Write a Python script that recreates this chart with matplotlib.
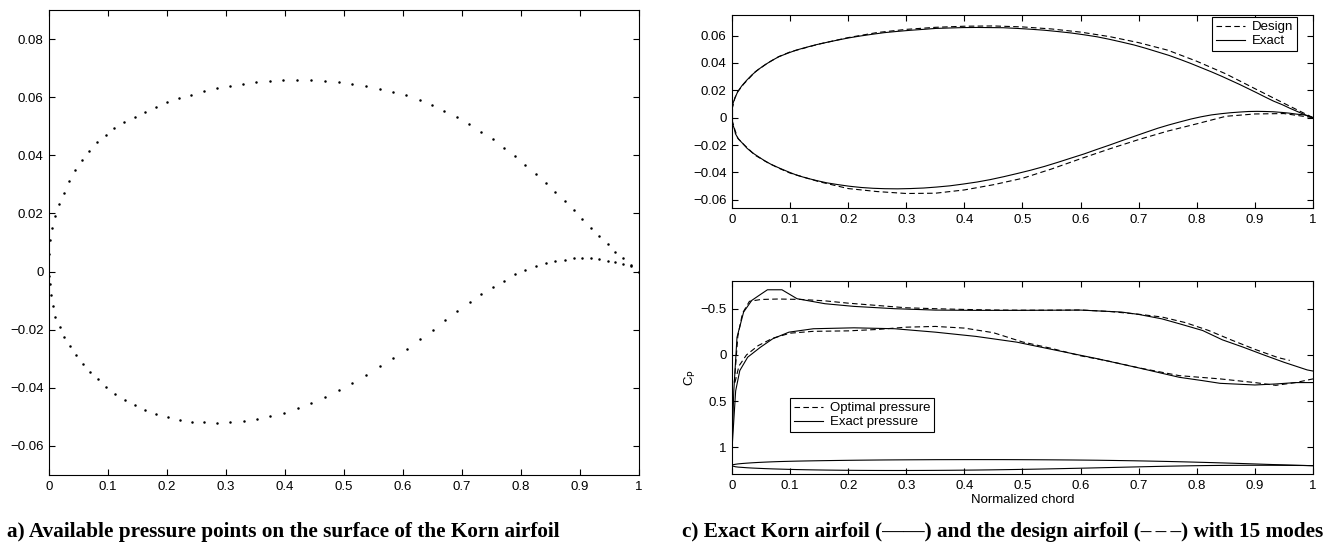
import matplotlib
matplotlib.use("Agg")
import matplotlib.pyplot as plt

# Korn airfoil, pressure points (upper and lower surface)
upper_x = [0.0, 0.002, 0.0057, 0.010, 0.017, 0.025, 0.034, 0.044, 0.056, 0.068, 0.081, 0.096,
           0.111, 0.127, 0.145, 0.163, 0.181, 0.200, 0.220, 0.241, 0.262, 0.284, 0.306, 0.329,
           0.351, 0.374, 0.397, 0.421, 0.444, 0.467, 0.491, 0.514, 0.537, 0.561, 0.583, 0.605,
           0.628, 0.649, 0.670, 0.692, 0.712, 0.732, 0.752, 0.771, 0.789, 0.807, 0.825, 0.842,
           0.858, 0.874, 0.889, 0.904, 0.918, 0.932, 0.947, 0.960, 0.973, 0.986, 1.0]
upper_y = [0.0062, 0.0108, 0.0150, 0.0191, 0.0233, 0.0272, 0.0311, 0.0348, 0.0384, 0.0416, 0.0446,
           0.0471, 0.0494, 0.0513, 0.0533, 0.0550, 0.0566, 0.0582, 0.0596, 0.0609, 0.0621, 0.0630,
           0.0638, 0.0645, 0.0652, 0.0655, 0.0658, 0.0659, 0.0658, 0.0657, 0.0652, 0.0646, 0.0639,
           0.0629, 0.0619, 0.0606, 0.0591, 0.0573, 0.0553, 0.0531, 0.0507, 0.0481, 0.0455, 0.0426,
           0.0397, 0.0366, 0.0335, 0.0304, 0.0273, 0.0242, 0.0211, 0.0180, 0.0150, 0.0121, 0.0095,
           0.0069, 0.0045, 0.0021, 0.0]
lower_x = [0.0, 0.001, 0.004, 0.006, 0.011, 0.019, 0.026, 0.035, 0.046, 0.057, 0.069, 0.083, 0.097,
           0.112, 0.128, 0.146, 0.163, 0.182, 0.202, 0.222, 0.243, 0.263, 0.285, 0.307, 0.330,
           0.352, 0.375, 0.398, 0.422, 0.444, 0.468, 0.491, 0.514, 0.538, 0.561, 0.583, 0.606,
           0.628, 0.650, 0.671, 0.692, 0.713, 0.733, 0.752, 0.771, 0.790, 0.807, 0.825, 0.842,
           0.858, 0.874, 0.889, 0.904, 0.918, 0.932, 0.947, 0.959, 0.973, 0.986, 1.0]
lower_y = [-0.0015, -0.0044, -0.0082, -0.0118, -0.0156, -0.0191, -0.0224, -0.0256, -0.0287, -0.0317,
           -0.0345, -0.0371, -0.0396, -0.0421, -0.0441, -0.0460, -0.0476, -0.0489, -0.0501, -0.0510,
           -0.0516, -0.0519, -0.0520, -0.0518, -0.0514, -0.0507, -0.0498, -0.0485, -0.0470, -0.0453,
           -0.0431, -0.0408, -0.0384, -0.0356, -0.0326, -0.0296, -0.0265, -0.0232, -0.0200, -0.0168,
           -0.0137, -0.0106, -0.0077, -0.0053, -0.0031, -0.0010, 0.0006, 0.0020, 0.0029, 0.0036,
           0.0041, 0.0045, 0.0046, 0.0045, 0.0043, 0.0038, 0.0033, 0.0025, 0.0020, 0.0]

# design airfoil (15 modes)
design_x = [0.0, 0.005, 0.01, 0.02, 0.04, 0.06, 0.08, 0.1, 0.15, 0.2, 0.25, 0.3, 0.35, 0.4, 0.45,
            0.5, 0.55, 0.6, 0.65, 0.7, 0.75, 0.8, 0.85, 0.9, 0.95, 1.0]
design_upper = [0.006, 0.0145, 0.019, 0.0245, 0.0335, 0.0395, 0.0445, 0.048, 0.0538, 0.0585, 0.0622,
                0.0645, 0.066, 0.0668, 0.0670, 0.0663, 0.0648, 0.0625, 0.0592, 0.0548, 0.0493,
                0.0412, 0.0320, 0.0212, 0.0105, 0.0]
design_lower = [-0.0015, -0.009, -0.015, -0.0195, -0.0275, -0.0325, -0.0368, -0.0405, -0.0468, -0.0518,
                -0.054, -0.0554, -0.0552, -0.0528, -0.049, -0.0443, -0.0375, -0.0300, -0.0228,
                -0.0160, -0.0098, -0.0045, 0.0010, 0.0027, 0.0030, 0.0]

# pressure coefficients
cp_exact_up_x = [0.0, 0.003, 0.0086, 0.02, 0.034, 0.048, 0.061, 0.086, 0.112, 0.16, 0.21, 0.28, 0.35,
                 0.42, 0.49, 0.6, 0.67, 0.70, 0.74, 0.77, 0.81, 0.844, 0.88, 0.915, 0.95, 0.99, 1.0]
cp_exact_up = [1.02, 0.4, -0.19, -0.464, -0.59, -0.65, -0.705, -0.705, -0.608, -0.554, -0.525, -0.5,
               -0.485, -0.482, -0.482, -0.485, -0.464, -0.438, -0.39, -0.337, -0.264, -0.163, -0.083,
               0.0, 0.08, 0.163, 0.175]
cp_opt_up_x = [0.004, 0.01, 0.018, 0.03, 0.05, 0.08, 0.12, 0.16, 0.2, 0.25, 0.3, 0.35, 0.4, 0.45, 0.5,
               0.55, 0.6, 0.65, 0.7, 0.74, 0.78, 0.82, 0.86, 0.9, 0.94, 0.96]
cp_opt_up = [0.3, -0.2, -0.45, -0.58, -0.6, -0.605, -0.6, -0.585, -0.56, -0.535, -0.51, -0.5, -0.492,
             -0.486, -0.484, -0.484, -0.486, -0.47, -0.44, -0.41, -0.35, -0.265, -0.16, -0.06, 0.03, 0.06]
cp_exact_lo_x = [0.0, 0.0063, 0.0134, 0.027, 0.049, 0.07, 0.098, 0.14, 0.21, 0.28, 0.35, 0.42, 0.49,
                 0.56, 0.63, 0.70, 0.77, 0.81, 0.84, 0.90, 0.936, 0.97, 0.99, 1.0]
cp_exact_lo = [1.02, 0.39, 0.17, 0.025, -0.083, -0.174, -0.246, -0.283, -0.293, -0.283, -0.246, -0.2,
               -0.138, -0.047, 0.043, 0.141, 0.243, 0.279, 0.308, 0.326, 0.315, 0.3, 0.3, 0.3]
cp_opt_lo_x = [0.005, 0.012, 0.025, 0.045, 0.07, 0.1, 0.14, 0.2, 0.25, 0.3, 0.35, 0.4, 0.45, 0.5,
               0.55, 0.6, 0.65, 0.7, 0.77, 0.84, 0.9, 0.936, 0.97, 1.0]
cp_opt_lo = [0.3, 0.12, 0.0, -0.1, -0.18, -0.235, -0.255, -0.26, -0.275, -0.3, -0.308, -0.29, -0.24,
             -0.14, -0.07, 0.01, 0.07, 0.14, 0.225, 0.26, 0.3, 0.33, 0.3, 0.26]

x_ticks = [0, 0.1, 0.2, 0.3, 0.4, 0.5, 0.6, 0.7, 0.8, 0.9, 1]
y_ticks_a = [-0.06, -0.04, -0.02, 0, 0.02, 0.04, 0.06, 0.08]
y_ticks_geo = [-0.06, -0.04, -0.02, 0, 0.02, 0.04, 0.06]
y_ticks_cp = [-0.5, 0, 0.5, 1]
cp_offset = 1.2  # airfoil sketch drawn under the cp curves

caption_a = "a) Available pressure points on the surface of the Korn airfoil"
caption_c = ("c) Exact Korn airfoil (\u2014\u2014) and the design airfoil "
             "(\u2013\u2009\u2013\u2009\u2013) with 15 modes")

plt.rcParams['font.family'] = ['Liberation Sans', 'DejaVu Sans']
plt.rcParams['font.size'] = 9.5
plt.rcParams['axes.linewidth'] = 0.8

W, H = 1333, 544
DASH = (0, (5, 3))


def fmt(v):
    return f"{v:g}".replace("-", "\u2212")


def style(ax, yticks):
    ax.set_xticks(x_ticks)
    ax.set_xticklabels([fmt(v) for v in x_ticks])
    ax.set_yticks(yticks)
    ax.set_yticklabels([fmt(v) for v in yticks])
    ax.tick_params(direction='in', top=True, right=True, length=4, width=0.8, pad=4)
    ax.set_xlim(0, 1)


def px_rect(x0, y0, x1, y1):
    return [x0 / W, 1 - y1 / H, (x1 - x0) / W, (y1 - y0) / H]


fig = plt.figure(figsize=(W / 100, H / 100), dpi=100)

# a) pressure points
ax_a = fig.add_axes(px_rect(49, 10, 639, 475))
ax_a.plot(upper_x, upper_y, 'k.', markersize=3.6, markeredgewidth=0)
ax_a.plot(lower_x, lower_y, 'k.', markersize=3.6, markeredgewidth=0)
style(ax_a, y_ticks_a)
ax_a.set_ylim(-0.07, 0.09)

# c) top: airfoil geometry
ax_g = fig.add_axes(px_rect(732, 15, 1313, 208))
ax_g.plot(design_x, design_upper, color='k', lw=0.8, linestyle=DASH, label='Design')
ax_g.plot(upper_x, upper_y, color='k', lw=0.8, label='Exact')
ax_g.plot(design_x, design_lower, color='k', lw=0.8, linestyle=DASH)
ax_g.plot(lower_x, lower_y, color='k', lw=0.8)
ax_g.plot([0, 0], [lower_y[0], upper_y[0]], color='k', lw=0.8)
style(ax_g, y_ticks_geo)
ax_g.set_ylim(-0.066, 0.075)
leg = ax_g.legend(loc='upper right', bbox_to_anchor=(0.9725, 0.99), fontsize=9.5, handlelength=2.2,
                  borderpad=0.3, labelspacing=0.15, handletextpad=0.5, fancybox=False,
                  framealpha=1, edgecolor='k', borderaxespad=0)
leg.get_frame().set_linewidth(0.8)

# c) bottom: pressure distribution
ax_p = fig.add_axes(px_rect(732, 281, 1313, 474))
ax_p.plot(cp_opt_up_x, cp_opt_up, color='k', lw=0.8, linestyle=DASH, label='Optimal pressure')
ax_p.plot(cp_exact_up_x, cp_exact_up, color='k', lw=0.8, label='Exact pressure')
ax_p.plot(cp_opt_lo_x, cp_opt_lo, color='k', lw=0.8, linestyle=DASH)
ax_p.plot(cp_exact_lo_x, cp_exact_lo, color='k', lw=0.8)
ax_p.plot(upper_x, [cp_offset - v for v in upper_y], color='k', lw=0.8)
ax_p.plot(lower_x, [cp_offset - v for v in lower_y], color='k', lw=0.8)
style(ax_p, y_ticks_cp)
ax_p.set_ylim(1.29, -0.8)
ax_p.set_xlabel('Normalized chord', labelpad=2)
ax_p.set_ylabel(r'C$_\mathrm{P}$', labelpad=2)
leg = ax_p.legend(loc='upper left', bbox_to_anchor=(0.1, 0.394), fontsize=9.5, handlelength=2.2,
                  borderpad=0.3, labelspacing=0.15, handletextpad=0.5, fancybox=False,
                  framealpha=1, edgecolor='k', borderaxespad=0)
leg.get_frame().set_linewidth(0.8)

cap = dict(fontsize=15.3, fontweight='bold', family=['Liberation Serif', 'DejaVu Serif'], va='center')
fig.text(7 / W, 1 - 532 / H, caption_a, ha='left', **cap)
fig.text(682 / W, 1 - 532 / H, caption_c, ha='left', **cap)

fig.savefig('out.png', dpi=100)
